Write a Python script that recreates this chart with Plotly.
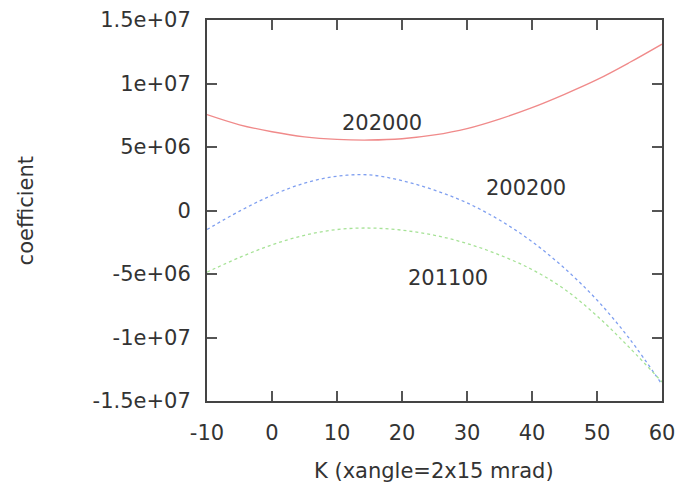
import plotly.graph_objects as go

# Scan parameter K and the three coefficient curves
k_values = [-10, -5, 0, 5, 10, 15, 20, 25, 30, 35, 40, 45, 50, 55, 60]
coef_202000 = [7.55e6, 6.75e6, 6.2e6, 5.8e6, 5.6e6, 5.55e6, 5.65e6, 5.95e6,
               6.45e6, 7.2e6, 8.1e6, 9.15e6, 10.3e6, 11.65e6, 13.1e6]
coef_200200 = [-1.5e6, -0.05e6, 1.2e6, 2.15e6, 2.7e6, 2.8e6, 2.35e6, 1.6e6,
               0.6e6, -0.75e6, -2.45e6, -4.55e6, -7.05e6, -10.1e6, -13.7e6]
coef_201100 = [-4.85e6, -3.7e6, -2.7e6, -1.95e6, -1.5e6, -1.38e6, -1.55e6, -1.95e6,
               -2.6e6, -3.5e6, -4.65e6, -6.2e6, -8.3e6, -10.8e6, -13.5e6]

# Curve labels and where they sit (K, coefficient)
curve_names = ["202000", "200200", "201100"]
label_k = [16.9, 39.1, 27.0]
label_coef = [6.9e6, 1.8e6, -5.35e6]

x_ticks = [-10, 0, 10, 20, 30, 40, 50, 60]
x_tick_text = ["-10", "0", "10", "20", "30", "40", "50", "60"]
y_ticks = [1.5e7, 1e7, 5e6, 0, -5e6, -1e7, -1.5e7]
y_tick_text = ["1.5e+07", "1e+07", "5e+06", "0", "-5e+06", "-1e+07", "-1.5e+07"]

FONT = "DejaVu Sans"
FONT_SIZE = 21
TEXT_COLOR = "#333333"

fig = go.Figure()
fig.add_trace(go.Scatter(x=k_values, y=coef_202000, mode="lines", name=curve_names[0],
                         line=dict(color="#f08a8a", width=1.3, shape="spline")))
fig.add_trace(go.Scatter(x=k_values, y=coef_200200, mode="lines", name=curve_names[1],
                         line=dict(color="#7f9ff0", width=1.3, dash="dot", shape="spline")))
fig.add_trace(go.Scatter(x=k_values, y=coef_201100, mode="lines", name=curve_names[2],
                         line=dict(color="#a6e296", width=1.3, dash="dot", shape="spline")))

for name, kx, cy in zip(curve_names, label_k, label_coef):
    fig.add_annotation(x=kx, y=cy, xref="x", yref="y", text=name, showarrow=False,
                       font=dict(family=FONT, size=FONT_SIZE, color=TEXT_COLOR))

# Axis titles
fig.add_annotation(x=-0.398, y=0.5, xref="paper", yref="paper", text="coefficient",
                   textangle=-90, showarrow=False, xanchor="center", yanchor="middle",
                   font=dict(family=FONT, size=FONT_SIZE, color=TEXT_COLOR))
fig.add_annotation(x=0.499, y=-0.184, xref="paper", yref="paper",
                   text="K (xangle=2x15 mrad)", showarrow=False,
                   xanchor="center", yanchor="middle",
                   font=dict(family=FONT, size=FONT_SIZE, color=TEXT_COLOR))

axis_style = dict(showgrid=False, zeroline=False, showline=True, linecolor="#444444",
                  linewidth=2, mirror="ticks", ticks="inside", ticklen=10,
                  tickcolor="#555555", tickwidth=1.5,
                  tickfont=dict(family=FONT, size=FONT_SIZE, color=TEXT_COLOR))

fig.update_xaxes(range=[-10, 60], tickvals=x_ticks, ticktext=x_tick_text,
                 ticklabelstandoff=12, **axis_style)
fig.update_yaxes(range=[-1.5e7, 1.5e7], tickvals=y_ticks, ticktext=y_tick_text,
                 ticklabelstandoff=10, **axis_style)

fig.update_layout(width=684, height=486, showlegend=False,
                  plot_bgcolor="white", paper_bgcolor="white",
                  margin=dict(l=207, r=22, t=20, b=85, autoexpand=False))

fig.write_html("out.html")
